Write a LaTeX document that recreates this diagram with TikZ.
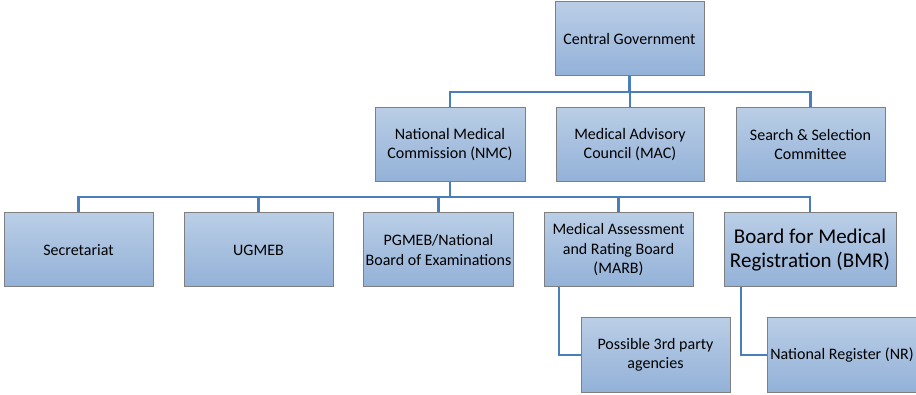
\documentclass[tikz,border=0pt]{standalone}
\usepackage{fontspec}
\setmainfont{Carlito}
\definecolor{boxtop}{HTML}{BACEE6}
\definecolor{boxbot}{HTML}{93B1D8}
\definecolor{boxedge}{HTML}{7F7F7F}
\definecolor{linkblue}{HTML}{4A7EBB}
\begin{document}
\begin{tikzpicture}[x=1pt,y=-1pt,
  orgbox/.style={draw=boxedge, line width=1pt, top color=boxtop, bottom color=boxbot,
    minimum width=149pt, minimum height=74pt, inner sep=2pt, align=center,
    font=\fontsize{16}{19.5}\selectfont, text=black},
  bigtext/.style={font=\fontsize{21}{24}\selectfont},
  link/.style={draw=linkblue, line width=2.8pt}]
\useasboundingbox (0,0) rectangle (916,395);
% top level
\node[orgbox] (cg) at (629.5,39) {Central Government};
% second row
\node[orgbox, minimum width=150pt] (nmc) at (450,144.5) {National Medical\\Commission (NMC)};
\node[orgbox, minimum width=148pt] (mac) at (630,144.5) {Medical Advisory\\Council (MAC)};
\node[orgbox] (ssc) at (810.5,144.5) {Search \& Selection\\Committee};
% third row
\node[orgbox] (sec) at (78.5,250) {Secretariat};
\node[orgbox] (ug) at (258.5,250) {UGMEB};
\node[orgbox] (pg) at (438.5,250) {PGMEB/National\\Board of Examinations};
\node[orgbox] (marb) at (618.5,250) {Medical Assessment\\and Rating Board\\(MARB)};
\node[orgbox, bigtext, minimum width=172pt] (bmr) at (810,250) {Board for Medical\\Registration (BMR)};
% fourth row
\node[orgbox] (tpa) at (655.5,355) {Possible 3rd party\\agencies};
\node[orgbox, inner sep=1pt] (nr) at (842,355) {National Register (NR)};
% bus coordinates
\coordinate (busA) at (0,92);
\coordinate (busB) at (0,197);
\coordinate (marbdrop) at (559,287);
\coordinate (bmrdrop) at (741,287);
% connectors, level 1
\path[link] (cg.south) -- (cg.south |- busA);
\path[link] (nmc.north) -- (nmc.north |- busA) -- (ssc.north |- busA) -- (ssc.north);
\path[link] (mac.north) -- (mac.north |- busA);
% connectors, level 2
\path[link] (nmc.south) -- (nmc.south |- busB);
\path[link] (sec.north) -- (sec.north |- busB) -- (bmr.north |- busB) -- (bmr.north);
\path[link] (ug.north) -- (ug.north |- busB);
\path[link] (pg.north) -- (pg.north |- busB);
\path[link] (marb.north) -- (marb.north |- busB);
% connectors, level 3
\path[link] (marbdrop) |- (tpa.west);
\path[link] (bmrdrop) |- (nr.west);
\end{tikzpicture}
\end{document}
